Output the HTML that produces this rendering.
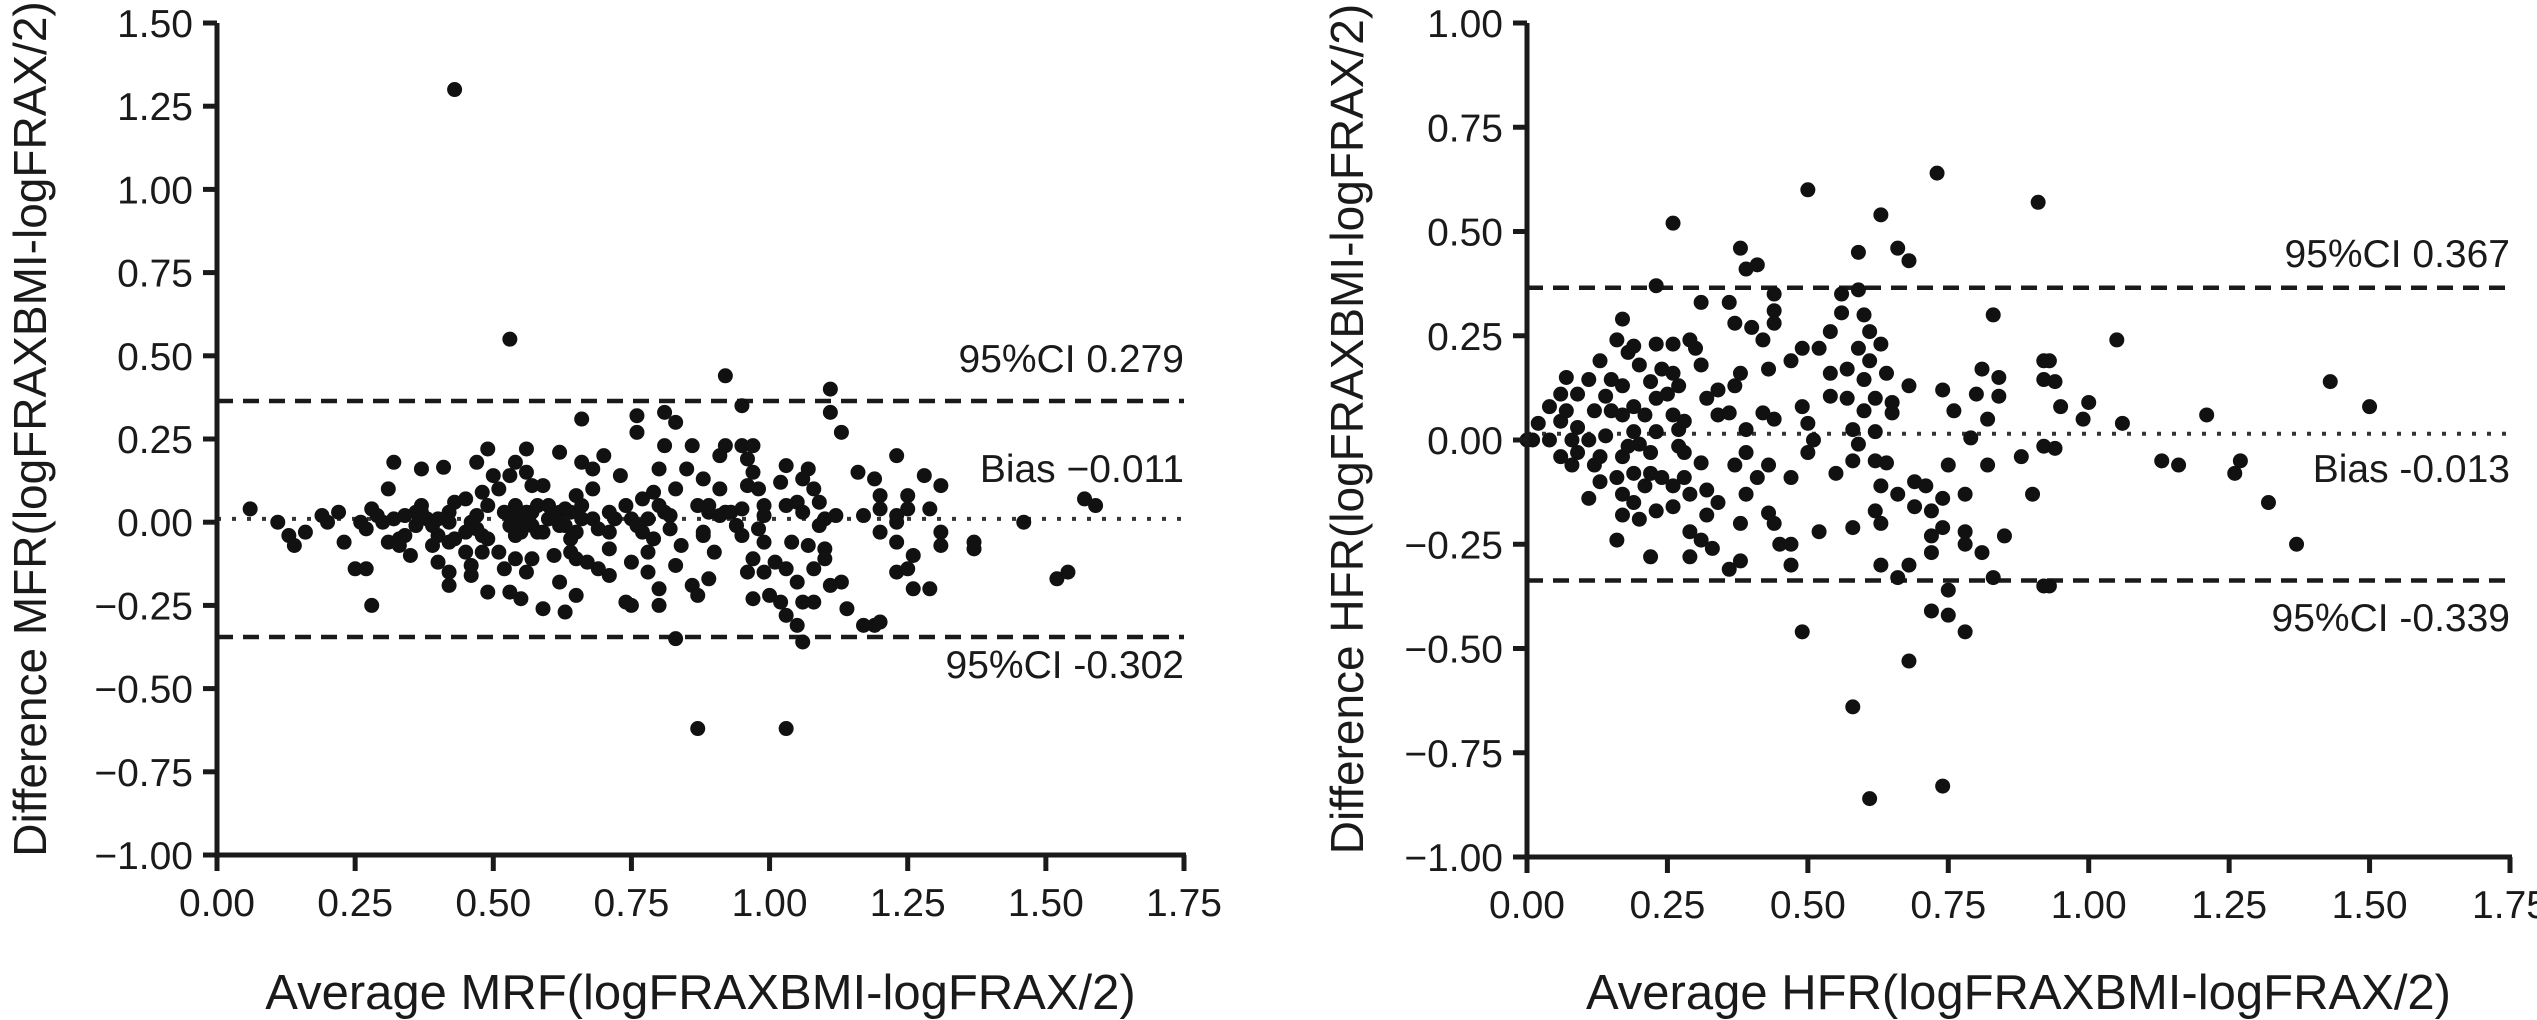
<!DOCTYPE html>
<html><head><meta charset="utf-8">
<style>
html,body{margin:0;padding:0;background:#fff;}
svg{display:block;font-family:"Liberation Sans",sans-serif;}
</style></head>
<body>
<svg id="chart" width="2537" height="1020" viewBox="0 0 2537 1020" xmlns="http://www.w3.org/2000/svg"></svg>
<script>
// ===== Left panel data (MRF) =====
const leftXTicks = [0, 0.25, 0.5, 0.75, 1.0, 1.25, 1.5, 1.75];
const leftXTickLabels = ["0.00","0.25","0.50","0.75","1.00","1.25","1.50","1.75"];
const leftYTicks = [1.5, 1.25, 1.0, 0.75, 0.5, 0.25, 0, -0.25, -0.5, -0.75, -1.0];
const leftYTickLabels = ["1.50","1.25","1.00","0.75","0.50","0.25","0.00","\u22120.25","\u22120.50","\u22120.75","\u22121.00"];
const leftUpperCI = 0.364;
const leftLowerCI = -0.345;
const leftBias = 0.01;
const leftX = [0.06,0.11,0.13,0.14,0.16,0.19,0.20,0.22,0.23,0.26,0.27,0.25,0.27,0.28,0.28,0.29,0.30,0.31,0.32,0.31,0.33,0.34,0.35,0.34,0.36,0.37,0.37,0.38,0.39,0.40,0.40,0.41,0.42,0.42,0.42,0.42,0.43,0.45,0.45,0.46,0.46,0.47,0.47,0.48,0.48,0.49,0.49,0.49,0.50,0.51,0.51,0.52,0.53,0.53,0.53,0.54,0.54,0.54,0.55,0.55,0.55,0.56,0.56,0.56,0.57,0.57,0.57,0.58,0.59,0.59,0.60,0.60,0.61,0.62,0.62,0.62,0.63,0.63,0.64,0.65,0.65,0.66,0.66,0.66,0.67,0.68,0.68,0.69,0.70,0.71,0.71,0.71,0.73,0.74,0.74,0.75,0.75,0.75,0.76,0.76,0.77,0.77,0.78,0.78,0.79,0.80,0.80,0.80,0.81,0.81,0.81,0.82,0.83,0.83,0.83,0.84,0.85,0.86,0.86,0.87,0.88,0.88,0.89,0.89,0.90,0.91,0.91,0.92,0.92,0.94,
0.52,0.53,0.54,0.56,0.57,0.58,0.59,0.60,0.62,0.63,0.64,0.65,0.66,0.68,0.64,0.65,0.42,0.43,0.40,0.37,0.36,0.32,0.33,0.39,0.46,0.47,0.45,0.48,0.49,0.69,0.71,0.72,0.76,0.78,0.79,0.80,0.82,0.87,0.89,0.91,0.88,0.83,
0.95,1.11,1.11,1.13,0.95,0.97,0.96,0.97,0.96,0.98,1.03,1.02,1.07,1.06,1.08,0.93,0.95,0.99,0.99,1.03,1.05,1.06,1.09,1.10,1.12,1.09,0.94,0.95,0.98,0.99,1.04,1.07,1.10,1.10,1.08,0.97,0.96,0.99,1.01,1.03,1.05,1.11,1.13,0.97,1.00,1.02,1.06,1.08,1.03,1.05,1.06,1.14,1.17,1.19,1.20,1.16,1.19,1.20,1.20,1.17,1.20,1.23,1.23,1.23,1.23,1.25,1.26,1.26,1.29,1.23,1.25,1.25,1.28,1.31,1.29,1.31,1.31,1.37,1.37,1.46,1.57,1.59,1.52,1.54,
0.43,0.53,0.87,1.03,0.92];
const leftY = [0.04,0.00,-0.04,-0.07,-0.03,0.02,0.00,0.03,-0.06,0.00,-0.02,-0.14,-0.14,-0.25,0.04,0.02,0.00,0.10,0.18,-0.06,-0.07,-0.04,-0.10,0.02,0.03,0.16,0.05,0.01,-0.01,-0.04,-0.12,0.165,-0.15,-0.19,-0.06,0.03,0.06,0.07,-0.03,-0.13,-0.16,0.18,0.02,0.09,-0.04,-0.21,0.22,0.05,0.14,-0.09,0.10,-0.14,0.02,0.14,-0.21,-0.11,0.18,0.05,0.01,-0.03,-0.23,0.15,-0.15,0.22,0.11,-0.11,0.03,-0.03,-0.26,0.11,0.01,0.05,-0.10,0.21,-0.18,-0.01,-0.27,0.04,-0.05,0.08,-0.22,0.01,0.18,0.31,-0.12,0.10,0.16,-0.14,0.20,0.03,-0.08,-0.16,0.14,0.05,-0.24,-0.25,-0.12,0.01,0.27,0.32,0.07,-0.03,-0.15,-0.09,0.09,0.16,-0.25,-0.20,0.23,0.03,0.33,-0.02,-0.13,0.30,0.10,-0.07,0.16,0.23,-0.19,-0.22,-0.04,0.13,0.05,-0.17,-0.09,0.10,0.20,0.23,0.03,-0.01,
0.03,-0.01,-0.04,0.03,-0.01,0.05,-0.03,0.01,0.03,-0.01,0.03,-0.03,0.05,0.01,-0.09,-0.11,0.00,-0.05,0.01,0.03,-0.01,0.01,-0.05,-0.07,0.00,-0.02,-0.09,-0.09,-0.05,-0.02,-0.03,0.01,-0.01,0.01,-0.05,0.05,0.02,0.05,0.03,0.02,-0.03,-0.35,
0.35,0.40,0.33,0.27,0.23,0.23,0.19,0.15,0.11,0.10,0.17,0.12,0.16,0.13,0.10,0.03,0.04,0.05,0.02,0.05,0.06,0.03,0.06,0.01,0.02,-0.01,-0.01,-0.04,-0.02,-0.06,-0.06,-0.07,-0.08,-0.11,-0.14,-0.11,-0.15,-0.15,-0.12,-0.14,-0.18,-0.19,-0.18,-0.23,-0.22,-0.24,-0.24,-0.24,-0.28,-0.31,-0.36,-0.26,-0.31,-0.31,-0.30,0.15,0.13,0.08,0.04,0.02,-0.03,0.02,0.00,-0.06,-0.15,-0.14,-0.10,-0.20,-0.20,0.20,0.08,0.04,0.14,0.11,0.04,-0.03,-0.07,-0.06,-0.08,0.00,0.07,0.05,-0.17,-0.15,
1.30,0.55,-0.62,-0.62,0.44];

// ===== Right panel data (HFR) =====
const rightXTicks = [0, 0.25, 0.5, 0.75, 1.0, 1.25, 1.5, 1.75];
const rightXTickLabels = ["0.00","0.25","0.50","0.75","1.00","1.25","1.50","1.75"];
const rightYTicks = [1.0, 0.75, 0.5, 0.25, 0, -0.25, -0.5, -0.75, -1.0];
const rightYTickLabels = ["1.00","0.75","0.50","0.25","0.00","\u22120.25","\u22120.50","\u22120.75","\u22121.00"];
const rightUpperCI = 0.365;
const rightLowerCI = -0.337;
const rightBias = 0.015;
const rightX = [0.01,0.02,0.04,0.04,0.06,0.06,0.06,0.07,0.07,0.08,0.08,0.09,0.09,0.09,0.11,0.11,0.11,0.12,0.12,0.13,0.13,0.13,0.14,0.14,0.15,0.15,0.16,0.16,0.16,0.17,0.17,0.17,0.17,0.17,0.17,0.18,0.18,0.19,0.19,0.19,0.19,0.19,0.20,0.20,0.20,0.21,0.21,0.22,0.22,0.22,0.22,0.23,0.23,0.23,0.23,0.23,0.24,0.24,0.25,0.26,0.26,0.26,0.26,0.26,0.26,0.27,0.27,0.27,0.28,0.28,0.28,0.29,0.29,0.29,0.29,0.30,0.31,0.31,0.31,0.31,0.32,0.32,0.32,0.33,0.34,0.34,0.34,0.36,0.36,0.36,0.37,0.37,0.37,0.38,0.38,0.38,0.38,0.39,0.39,0.39,0.39,0.40,0.41,0.41,0.42,0.42,0.43,0.43,0.43,0.44,0.44,0.44,0.44,0.44,0.45,0.47,0.47,0.47,0.47,0.49,0.49,0.49,0.50,0.50,0.51,0.52,0.52,0.54,0.54,0.54,0.55,0.56,0.56,0.57,0.57,0.58,0.58,0.58,0.59,0.59,0.59,0.59,0.60,0.60,0.60,0.61,0.61,0.62,0.62,0.62,0.62,0.63,0.63,0.63,0.63,0.63,0.64,0.64,0.65,0.65,0.66,0.66,0.66,0.68,0.68,0.68,0.69,0.69,0.71,0.72,0.72,0.72,0.72,0.74,0.74,0.74,0.75,0.75,0.75,0.76,0.78,0.78,0.78,0.78,0.79,0.80,0.81,0.81,0.82,0.82,0.83,0.83,0.84,0.84,0.85,0.88,0.90,0.91,0.92,0.92,0.92,0.92,
0.50,0.73,0.58,0.61,0.74,0.68,0.93,0.95,0.94,0.93,0.94,0.99,1.00,1.05,1.06,1.13,1.16,1.21,1.26,1.27,1.32,1.37,1.43,1.50,0.00];
const rightY = [0.00,0.04,0.08,0.00,0.11,0.045,-0.04,0.15,0.07,-0.06,0.00,0.11,0.03,-0.03,0.145,0.00,-0.14,-0.06,0.07,0.19,-0.04,-0.10,0.105,0.01,0.07,0.145,-0.09,0.24,-0.24,-0.13,-0.04,0.06,0.13,0.29,-0.18,-0.015,0.21,0.08,0.02,-0.08,0.225,-0.15,0.18,-0.01,-0.19,-0.11,0.06,0.14,-0.03,-0.28,-0.08,0.37,0.23,0.10,0.02,-0.17,0.17,-0.09,0.11,0.06,-0.11,-0.16,0.52,0.23,0.16,0.025,0.13,-0.015,0.045,-0.09,-0.03,0.24,-0.28,-0.13,-0.22,0.22,-0.055,-0.24,0.33,0.18,0.10,-0.12,-0.18,-0.26,-0.15,0.06,0.12,-0.31,0.065,0.33,0.13,0.28,-0.06,-0.29,0.16,0.46,-0.20,0.41,-0.13,0.025,-0.03,0.27,0.42,-0.09,0.065,0.24,0.17,-0.175,-0.06,0.35,0.31,0.28,0.05,-0.20,-0.25,-0.25,-0.30,-0.09,0.19,0.08,-0.46,0.22,-0.03,0.04,0.00,0.22,-0.22,0.26,0.16,0.105,-0.08,0.35,0.305,0.17,0.10,0.025,-0.21,-0.05,0.45,0.22,0.36,-0.01,0.07,0.30,0.145,0.26,0.19,0.10,-0.17,0.02,-0.05,-0.11,0.54,-0.30,0.23,-0.20,0.16,-0.055,0.09,0.065,-0.13,-0.33,0.46,0.43,0.13,-0.30,-0.10,-0.16,-0.11,-0.23,-0.27,-0.41,-0.17,0.12,-0.14,-0.21,-0.36,-0.06,-0.42,0.07,-0.25,-0.46,-0.22,-0.13,0.005,0.11,0.17,-0.27,0.05,-0.06,-0.33,0.30,0.15,0.105,-0.23,-0.04,-0.13,0.57,0.19,0.145,-0.015,-0.35,
0.60,0.64,-0.64,-0.86,-0.83,-0.53,-0.35,0.08,-0.02,0.19,0.14,0.05,0.09,0.24,0.04,-0.05,-0.06,0.06,-0.08,-0.05,-0.15,-0.25,0.14,0.08,0.00];

const NS = "http://www.w3.org/2000/svg";
const svg = document.getElementById('chart');
function mk(tag, attrs, parent){
  const e = document.createElementNS(NS, tag);
  for (const k in attrs) e.setAttribute(k, attrs[k]);
  (parent||svg).appendChild(e);
  return e;
}

function panel(cfg){
  const g = mk('g', {});
  
  
  const sx = v => cfg.x0 + (v - cfg.xmin) / (cfg.xmax - cfg.xmin) * (cfg.x1 - cfg.x0);
  const sy = v => cfg.yBot - (v - cfg.ymin) / (cfg.ymax - cfg.ymin) * (cfg.yBot - cfg.yTop);
  const up = mk('line', {x1:cfg.x0, x2:cfg.x1, y1:sy(cfg.upper), y2:sy(cfg.upper), stroke:'#1a1a1a','stroke-width':4.5,'stroke-dasharray':'16 10'}, g);
  
  
  const lo = mk('line', {x1:cfg.x0, x2:cfg.x1, y1:sy(cfg.lower), y2:sy(cfg.lower), stroke:'#1a1a1a','stroke-width':4.5,'stroke-dasharray':'16 10'}, g);
  
  
  const bi = mk('line', {x1:cfg.x0, x2:cfg.x1, y1:sy(cfg.bias), y2:sy(cfg.bias), stroke:'#333','stroke-width':4,'stroke-dasharray':'4 11'}, g);
  
  
  const pg = mk('g', {fill:'#111'}, g);
  
  
  for (let i = 0; i < cfg.xs.length; i++){
    const c = mk('circle', {cx:sx(cfg.xs[i]), cy:sy(cfg.ys[i]), r:7.5}, pg);
    
    
  }
  const ya = mk('line', {x1:cfg.x0, x2:cfg.x0, y1:cfg.yTop, y2:cfg.yBot+2, stroke:'#1a1a1a','stroke-width':5}, g);
  
  
  const xa = mk('line', {x1:cfg.x0-2, x2:cfg.x1+2, y1:cfg.yBot, y2:cfg.yBot, stroke:'#1a1a1a','stroke-width':5}, g);
  
  
  cfg.yTicks.forEach((v, i) => {
    const y = sy(v);
    const t = mk('line', {x1:cfg.x0-14, x2:cfg.x0, y1:y, y2:y, stroke:'#1a1a1a','stroke-width':5}, g);
    
    
    const l = mk('text', {x:cfg.x0-24, y:y+14, 'font-size':39, 'text-anchor':'end', fill:'#1a1a1a'}, g);
    l.textContent = cfg.yLabels[i];
    
    
  });
  cfg.xTicks.forEach((v, i) => {
    const x = sx(v);
    const t = mk('line', {x1:x, x2:x, y1:cfg.yBot, y2:cfg.yBot+16, stroke:'#1a1a1a','stroke-width':5}, g);
    
    
    const l = mk('text', {x:x, y:cfg.yBot+61, 'font-size':39, 'text-anchor':'middle', fill:'#1a1a1a'}, g);
    l.textContent = cfg.xLabels[i];
    
    
  });
  cfg.notes.forEach(n => {
    const l = mk('text', {x:cfg.x1, y:n[1], 'font-size':39, 'text-anchor':'end', fill:'#1a1a1a'}, g);
    l.textContent = n[0];
    
    
  });
  const xt = mk('text', {x:(cfg.x0+cfg.x1)/2, y:1009, 'font-size':49, 'text-anchor':'middle', fill:'#1a1a1a'}, g);
  xt.textContent = cfg.xTitle;
  
  
  const yt = mk('text', {x:0, y:0, 'font-size':46, 'text-anchor':'middle', fill:'#1a1a1a', transform:`translate(${cfg.yTitleX},429) rotate(-90)`}, g);
  yt.textContent = cfg.yTitle;
  
  
}

panel({name:'mfr-plot', x0:217, x1:1184, xmin:0, xmax:1.75, yTop:23, yBot:855, ymin:-1, ymax:1.5,
  xs:leftX, ys:leftY, upper:leftUpperCI, lower:leftLowerCI, bias:leftBias,
  xTicks:leftXTicks, xLabels:leftXTickLabels, yTicks:leftYTicks, yLabels:leftYTickLabels,
  notes:[["95%CI 0.279",372,'upper-ci-label'],["Bias \u22120.011",482,'bias-label'],["95%CI -0.302",678,'lower-ci-label']],
  xTitle:"Average MRF(logFRAXBMI-logFRAX/2)", yTitle:"Difference MFR(logFRAXBMI-logFRAX/2)", yTitleX:46});

panel({name:'hfr-plot', x0:1527, x1:2510, xmin:0, xmax:1.75, yTop:23, yBot:857, ymin:-1, ymax:1.0,
  xs:rightX, ys:rightY, upper:rightUpperCI, lower:rightLowerCI, bias:rightBias,
  xTicks:rightXTicks, xLabels:rightXTickLabels, yTicks:rightYTicks, yLabels:rightYTickLabels,
  notes:[["95%CI 0.367",267,'upper-ci-label'],["Bias -0.013",482,'bias-label'],["95%CI -0.339",631,'lower-ci-label']],
  xTitle:"Average HFR(logFRAXBMI-logFRAX/2)", yTitle:"Difference HFR(logFRAXBMI-logFRAX/2)", yTitleX:1363});
</script>
</body></html>
